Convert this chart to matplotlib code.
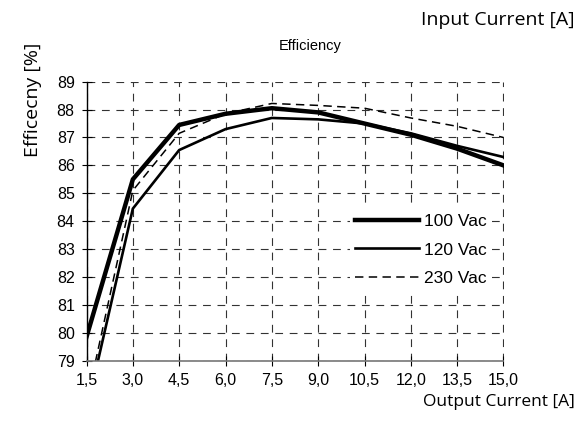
import matplotlib
matplotlib.use("Agg")
import matplotlib.pyplot as plt

# output current [A]
current = [1.5, 3.0, 4.5, 6.0, 7.5, 9.0, 10.5, 12.0, 13.5, 15.0]
tick_labels = ["1,5", "3,0", "4,5", "6,0", "7,5", "9,0", "10,5", "12,0", "13,5", "15,0"]

# efficiency [%] per input voltage
eff_100 = [79.85, 85.5, 87.45, 87.85, 88.05, 87.9, 87.5, 87.1, 86.6, 86.0]
eff_120 = [77.2, 84.45, 86.55, 87.3, 87.7, 87.65, 87.5, 87.15, 86.7, 86.3]
eff_230 = [77.5, 85.1, 87.15, 87.85, 88.22, 88.15, 88.05, 87.7, 87.4, 87.0]

W, H = 582, 421
fig = plt.figure(figsize=(W / 100, H / 100), dpi=100)
ax = fig.add_axes([86.5 / W, 1 - 360.7 / H, (503.5 - 86.5) / W, (360.7 - 81.7) / H])

ax.plot(current, eff_100, color="black", lw=3.2, label="100 Vac")
ax.plot(current, eff_120, color="black", lw=1.9, label="120 Vac")
ax.plot(current, eff_230, color="black", lw=1.1, ls=(0, (5.5, 3.5)), label="230 Vac")

ax.set_xlim(1.5, 15.0)
ax.set_ylim(79, 89)
ax.set_xticks(current)
ax.set_xticklabels(tick_labels)
ax.set_yticks(range(79, 90))

ax.grid(True, color="#333333", ls=(0, (7, 6)), lw=0.8)
ax.set_axisbelow(True)
for s in ["top", "right"]:
    ax.spines[s].set_visible(False)
ax.spines["left"].set_color("black")
ax.spines["left"].set_linewidth(1.0)
ax.spines["bottom"].set_color("#777777")
ax.spines["bottom"].set_linewidth(1.2)
ax.tick_params(direction="inout", length=7, width=0.8, labelsize=11.5, pad=5)
for lab in ax.get_xticklabels() + ax.get_yticklabels():
    lab.set_family("Liberation Sans")

leg = ax.legend(loc="center left", bbox_to_anchor=(0.632, 0.397), borderaxespad=0,
                frameon=True, fancybox=False, edgecolor="none", facecolor="white",
                framealpha=1, handlelength=3.7, handletextpad=0.28, labelspacing=0.78,
                borderpad=0.3, prop={"family": "Liberation Sans", "size": 12.5})

fig.text(310 / W, 1 - 46 / H, "Efficiency", ha="center", va="center",
         family="Liberation Sans", fontsize=10.5)
fig.text(575 / W, 1 - 20 / H, "Input Current [A]", ha="right", va="center",
         family="Open Sans", fontsize=14)
fig.text(575 / W, 1 - 402 / H, "Output Current [A]", ha="right", va="center",
         family="Open Sans", fontsize=12.5)
fig.text(33 / W, 1 - 100 / H, "Efficecny [%]", ha="center", va="center",
         rotation=90, family="Open Sans", fontsize=14)

fig.savefig("out.png", dpi=100)
